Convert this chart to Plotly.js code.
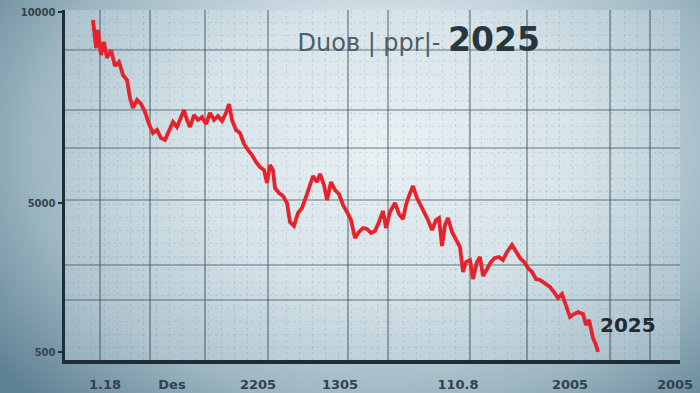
<!DOCTYPE html>
<html><head><meta charset="utf-8">
<script src="https://cdn.plot.ly/plotly-3.0.1.min.js"></script>
<style>
html,body{margin:0;padding:0;width:700px;height:393px;overflow:hidden;}
body{background:radial-gradient(ellipse 70% 90% at 55% 38%, #e8f0f3 0%, #cfdee5 40%, #9db6c2 72%, #5f8293 100%);}
#chart{width:700px;height:393px;}
</style></head>
<body><div id="chart"></div>
<script>
// series (day index, level)
const day = [28,31,33,36,39,42,46,50,54,58,62,65,68,72,76,80,84,88,92,96,100,104,108,112,116,119,122,125,129,133,137,141,145,149,153,157,161,164,167,171,175,179,183,187,191,195,199,202,205,208,210,214,218,222,225,229,233,237,241,245,248,252,255,259,262,266,270,274,278,282,286,290,294,298,302,306,310,314,318,321,325,330,334,338,341,344,348,352,355,359,363,367,371,374,377,380,383,387,391,395,398,401,405,408,412,415,418,422,426,430,434,438,442,447,451,455,459,463,467,471,475,480,485,489,493,497,501,505,509,513,518,521,524,528,531,533];
const level = [340,312,330,305,318,302,310,294,298,285,280,262,252,260,256,248,236,227,230,222,220,230,238,233,242,250,240,233,245,240,243,236,247,240,244,239,247,256,240,230,227,216,210,205,198,193,190,177,195,190,172,167,164,157,138,134,147,152,163,174,184,178,186,175,160,178,170,166,155,148,140,122,128,132,131,127,129,138,149,132,148,157,146,141,155,164,174,162,156,150,140,130,140,142,114,135,142,128,120,113,88,98,100,81,98,103,84,92,98,102,103,100,108,115,108,102,98,92,88,81,80,76,73,68,62,66,54,43,46,48,46,35,40,22,15,8];

const xTickVals = [40,107,193,275,393,505,610];
const xTickText = ['<b>1.18</b>','<b>Des</b>','<b>2205</b>','<b>1305</b>','<b>110.8</b>','<b>2005</b>','<b>2005</b>'];
const yTickVals = [348,157,8];
const yTickText = ['<b>10000</b>','<b>5000</b>','<b>500</b>'];
const xGrid = [35,85,140,203,283,323,405,462,545,585];
const yGrid = [310,250,212,160,95,60];

const titleMain = 'Duoв | ppr|-';
const titleYear = '2025';
const endLabel = '2025';

const trace = {
  x: day, y: level, type: 'scatter', mode: 'lines',
  line: {color: '#e5232c', width: 3.8, shape: 'linear'},
  hoverinfo: 'skip', showlegend: false
};
const gridTrace = {x: [0], y: [0], xaxis: 'x2', yaxis: 'y2', mode: 'markers',
  marker: {opacity: 0}, showlegend: false, hoverinfo: 'skip'};

const layout = {
  width: 700, height: 393,
  margin: {l: 65, r: 20, t: 10, b: 33},
  paper_bgcolor: 'rgba(0,0,0,0)',
  plot_bgcolor: 'rgba(235,243,246,0.25)',
  font: {family: 'DejaVu Sans, sans-serif', color: '#2a3a44'},
  title: {
    text: '<span style="font-size:24px;color:#4d5d66">' + titleMain + ' </span><b>' + titleYear + '</b>',
    font: {size: 33, color: '#27363f', family: 'DejaVu Sans, sans-serif'},
    x: 0.425, xanchor: 'left', xref: 'container',
    y: 0.9, yanchor: 'middle', yref: 'container'
  },
  xaxis: {
    range: [0, 615], showgrid: false, zeroline: false,
    showline: true, linewidth: 3.5, linecolor: '#1e2d36',
    tickmode: 'array', tickvals: xTickVals, ticktext: xTickText,
    ticks: '', ticklabelstandoff: 10,
    tickfont: {size: 13, color: '#33424b', family: 'DejaVu Sans, sans-serif'},
    minor: {dtick: 13, tick0: 0, showgrid: true, gridcolor: 'rgba(70,90,100,0.14)', griddash: 'dot', gridwidth: 1}
  },
  yaxis: {
    range: [0, 350], showgrid: false, zeroline: false,
    showline: true, linewidth: 3.5, linecolor: '#1e2d36',
    tickmode: 'array', tickvals: yTickVals, ticktext: yTickText,
    ticks: 'outside', ticklen: 4, tickwidth: 2, tickcolor: '#1e2d36',
    tickfont: {size: 10, color: '#34444d', family: 'DejaVu Sans, sans-serif'},
    minor: {dtick: 13, tick0: 0, showgrid: true, gridcolor: 'rgba(70,90,100,0.12)', griddash: 'dot', gridwidth: 1}
  },
  xaxis2: {
    overlaying: 'x', range: [0, 615], tickmode: 'array', tickvals: xGrid,
    showticklabels: false, ticks: '', showgrid: true, gridcolor: 'rgba(50,70,80,0.42)', gridwidth: 1.2, zeroline: false, side: 'bottom'
  },
  yaxis2: {
    overlaying: 'y', range: [0, 350], tickmode: 'array', tickvals: yGrid,
    showticklabels: false, ticks: '', showgrid: true, gridcolor: 'rgba(50,70,80,0.35)', gridwidth: 1.2, zeroline: false
  },
  annotations: [{
    x: 563, y: 35, xref: 'x', yref: 'y', text: '<b>' + endLabel + '</b>', showarrow: false,
    font: {size: 20, color: '#1f2c33', family: 'DejaVu Sans, sans-serif'}
  }]
};

Plotly.newPlot('chart', [gridTrace, trace], layout, {staticPlot: true, displayModeBar: false});
</script>
</body></html>
